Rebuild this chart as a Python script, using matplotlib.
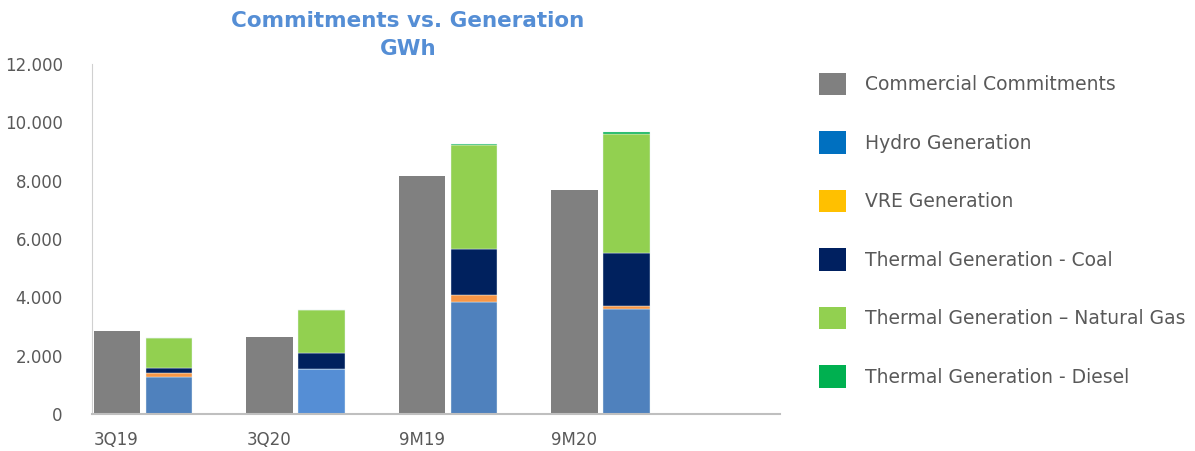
import numpy as np
import matplotlib.pyplot as plt
from matplotlib.patches import Patch

# values (GWh)
categories = ["3Q19", "3Q20", "9M19", "9M20"]
commitments = [2850, 2650, 8170, 7680]
hydro = [1280, 1530, 3850, 3610]
vre = [115, 20, 220, 100]
coal = [190, 540, 1590, 1820]
natural_gas = [1010, 1460, 3550, 4060]
diesel = [0, 0, 60, 70]

legend_labels = ["Commercial Commitments", "Hydro Generation", "VRE Generation",
                 "Thermal Generation - Coal", "Thermal Generation \u2013 Natural Gas",
                 "Thermal Generation - Diesel"]
legend_colors = ["#808080", "#0070C0", "#FFC000", "#002060", "#92D050", "#00B050"]

# bar colours as drawn in the chart (differ a bit from legend swatches)
hydro_colors = ["#4F81BD", "#558ED5", "#4F81BD", "#4F81BD"]
text_color = "#595959"

fig = plt.figure(figsize=(11.95, 4.51), dpi=100)
ax = fig.add_axes([92 / 1195, 37 / 451, 688 / 1195, 350 / 451])

x = np.arange(len(categories))
w = 0.305
gap = 0.34

ax.bar(x, commitments, width=w, align="edge", color="#808080")

gen_x = x + gap
bottom = np.zeros(len(categories))
stack = [(hydro, hydro_colors), (vre, "#F79646"), (coal, "#00215E"),
         (natural_gas, "#92D050"), (diesel, "#00B050")]
for vals, col in stack:
    ax.bar(gen_x, vals, width=w, bottom=bottom, align="edge", color=col,
           edgecolor="#E8F4F4", linewidth=0.3)
    bottom += np.array(vals)

ax.set_xlim(-0.013, 4.5)
ax.set_ylim(0, 12000)
ax.set_yticks(np.arange(0, 12001, 2000))
ax.set_yticklabels([f"{v:,}".replace(",", ".") for v in range(0, 12001, 2000)])
ax.set_xticks(x)
ax.set_xticklabels(categories, ha="left")
ax.tick_params(axis="both", length=0, labelsize=12, colors=text_color)
ax.tick_params(axis="y", pad=21)
ax.tick_params(axis="x", pad=12)

for s in ["top", "right"]:
    ax.spines[s].set_visible(False)
ax.spines["left"].set_color("#D0D0D0")
ax.spines["bottom"].set_color("#BFBFBF")
ax.spines["bottom"].set_linewidth(1.5)

fig.text(408 / 1195, 1 - 35 / 451, "Commitments vs. Generation\nGWh", ha="center",
         va="center", fontsize=15.5, fontweight="bold", color="#558ED5", linespacing=1.55)

handles = [Patch(facecolor=c) for c in legend_colors]
leg = fig.legend(handles, legend_labels, loc="upper left",
                 bbox_to_anchor=(802 / 1195, 1 - 56 / 451), frameon=False,
                 fontsize=13.5, labelcolor=text_color, handlelength=1.44,
                 handleheight=1.44, handletextpad=1.0, labelspacing=1.94)

fig.savefig("out.png", dpi=100)
